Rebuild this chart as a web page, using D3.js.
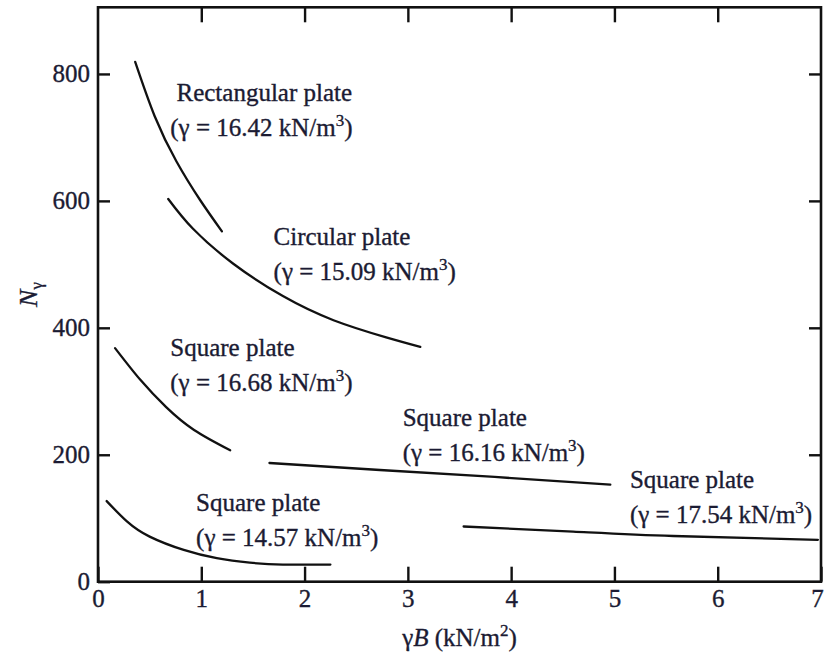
<!DOCTYPE html>
<html>
<head>
<meta charset="utf-8">
<script src="https://cdn.jsdelivr.net/npm/d3@7/dist/d3.min.js"></script>
<style>
  html, body { margin: 0; padding: 0; background: #fff; }
  svg text { font-family: "Liberation Serif", "DejaVu Serif", serif; fill: #1b1b33; stroke: #1b1b33; stroke-width: 0.35px; }
</style>
</head>
<body>
<svg id="chart" width="826" height="661"></svg>
<script>
// N_gamma vs gamma*B for plate load tests
const xTicks = [0, 1, 2, 3, 4, 5, 6, 7];
const yTicks = [0, 200, 400, 600, 800];

const rectX = [0.36, 0.55, 0.76, 0.99, 1.20];
const rectY = [819, 733, 662, 601, 552];

const circX = [0.68, 0.92, 1.31, 1.79, 2.28, 2.79, 3.12];
const circY = [603, 556, 501, 450, 412, 385, 370];

const sq1668X = [0.165, 0.41, 0.66, 0.93, 1.28];
const sq1668Y = [368, 318, 275, 239, 207];

const sq1616X = [1.66, 2.73, 3.84, 4.96];
const sq1616Y = [187, 176, 165, 153];

const sq1754X = [3.54, 4.60, 5.57, 6.97];
const sq1754Y = [87, 79, 72, 66];

const sq1457X = [0.084, 0.28, 0.50, 0.83, 1.15, 1.47, 1.79, 2.25];
const sq1457Y = [127, 95, 71, 50, 37, 30, 27, 27];

const seriesNames = ["Rectangular plate", "Circular plate", "Square plate", "Square plate", "Square plate", "Square plate"];
const seriesGamma = ["16.42", "15.09", "16.68", "16.16", "17.54", "14.57"];

const svg = d3.select("#chart");
const x = d3.scaleLinear().domain([0, 7]).range([98, 821]);
const y = d3.scaleLinear().domain([0, 905]).range([581.7, 7.3]);

// axes with inward ticks on all four sides
const fontSize = 25;
function styleAxis(g) {
  g.select(".domain").remove();
  g.selectAll(".tick line").attr("stroke", "#111").attr("stroke-width", 2.4);
  g.selectAll(".tick text").attr("font-size", fontSize)
    .attr("font-family", "Liberation Serif, DejaVu Serif, serif");
}

const xAxisG = svg.append("g").attr("transform", `translate(0,${y(0)})`)
  .call(d3.axisBottom(x).tickValues(xTicks).tickSize(-15).tickPadding(8).tickFormat(d3.format("d")))
  .call(styleAxis);
// keep the last tick label inside the page
xAxisG.selectAll(".tick text").filter(d => d === 7).attr("dx", -4);

svg.append("g").attr("transform", `translate(0,${y(905)})`)
  .call(d3.axisTop(x).tickValues(xTicks.slice(1, -1)).tickSize(-15).tickFormat(""))
  .call(styleAxis);
svg.append("g").attr("transform", `translate(${x(0)},0)`)
  .call(d3.axisLeft(y).tickValues(yTicks).tickSize(-12).tickPadding(8).tickFormat(d3.format("d")))
  .call(styleAxis);
svg.append("g").attr("transform", `translate(${x(7)},0)`)
  .call(d3.axisRight(y).tickValues(yTicks.slice(1)).tickSize(-12).tickFormat(""))
  .call(styleAxis);

// frame
svg.append("rect")
  .attr("x", x(0)).attr("y", y(905))
  .attr("width", x(7) - x(0)).attr("height", y(0) - y(905))
  .attr("fill", "none").attr("stroke", "#111").attr("stroke-width", 2.6);

// curves
const line = d3.line().x(d => x(d[0])).y(d => y(d[1])).curve(d3.curveNatural);
const series = [
  [rectX, rectY], [circX, circY], [sq1668X, sq1668Y],
  [sq1616X, sq1616Y], [sq1754X, sq1754Y], [sq1457X, sq1457Y]
];
series.forEach(([xs, ys]) => {
  svg.append("path")
    .datum(xs.map((v, i) => [v, ys[i]]))
    .attr("d", line)
    .attr("fill", "none")
    .attr("stroke", "#111")
    .attr("stroke-width", 2.3)
    .attr("stroke-linecap", "round");
});

// curve labels: [left x, baseline of first line, left x of second line] in data units
const labelPos = [
  [0.76, 757, 0.70], [1.70, 530, 1.70], [0.70, 355, 0.70],
  [2.95, 245, 2.95], [5.15, 147, 5.15], [0.95, 112, 0.95]
];
labelPos.forEach(([lx, ly, lx2], i) => {
  svg.append("text")
    .attr("x", x(lx)).attr("y", y(ly))
    .attr("font-size", fontSize)
    .text(seriesNames[i]);
  const t2 = svg.append("text")
    .attr("x", x(lx2)).attr("y", y(ly) + 35)
    .attr("font-size", fontSize);
  t2.append("tspan").text(`(γ = ${seriesGamma[i]} kN/m`);
  t2.append("tspan").attr("font-size", 17).attr("dy", -10).text("3");
  t2.append("tspan").attr("dy", 10).text(")");
});

// axis titles
const xt = svg.append("text")
  .attr("x", (x(0) + x(7)) / 2).attr("y", 646)
  .attr("text-anchor", "middle").attr("font-size", fontSize);
xt.append("tspan").text("γ");
xt.append("tspan").attr("font-style", "italic").text("B");
xt.append("tspan").text(" (kN/m");
xt.append("tspan").attr("font-size", 17).attr("dy", -10).text("2");
xt.append("tspan").attr("dy", 10).text(")");

const yt = svg.append("text")
  .attr("transform", `translate(37,${(y(0) + y(905)) / 2}) rotate(-90)`)
  .attr("text-anchor", "middle").attr("font-size", fontSize + 1);
yt.append("tspan").attr("font-style", "italic").text("N");
yt.append("tspan").attr("font-size", 17).attr("dy", 5).text("γ");
</script>
</body>
</html>
